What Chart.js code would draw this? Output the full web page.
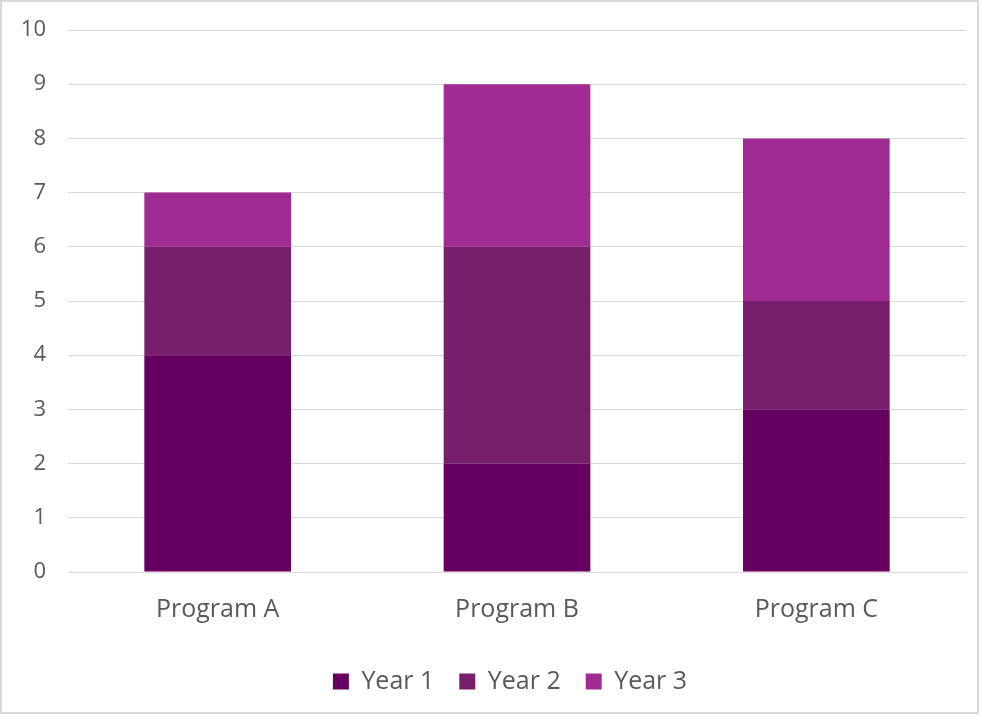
<!DOCTYPE html>
<html>
<head>
<meta charset="utf-8">
<script src="https://cdn.jsdelivr.net/npm/chart.js@4"></script>
<style>
  html, body { margin: 0; padding: 0; background: #ffffff; }
  #frame { position: absolute; left: 0; top: 0; width: 979px; height: 714px; box-sizing: border-box; border: 2px solid #d9d9d9; background: #fff; }
  #wrap { position: absolute; left: 0; top: 0; width: 975px; height: 710px; }
</style>
</head>
<body>
<div id="frame"><div id="wrap"><canvas id="c"></canvas></div></div>
<script>
const categories = ["Program A", "Program B", "Program C"];
const seriesNames = ["Year 1", "Year 2", "Year 3"];
const year1 = [4, 2, 3];
const year2 = [2, 4, 2];
const year3 = [1, 3, 3];
const seriesColors = ["#660060", "#771F6B", "#A02B93"];
const yTicks = [0, 1, 2, 3, 4, 5, 6, 7, 8, 9, 10];

const FONT = "'Open Sans', 'Liberation Sans', sans-serif";
const TXT = "#595959";

const legendNudge = {
  id: 'legendNudge',
  afterLayout(chart) {
    const lg = chart.legend;
    if (!lg) return;
    lg.left -= 7; lg.right -= 7;
    lg.top -= 4; lg.bottom -= 4;
  }
};

new Chart(document.getElementById('c'), {
  type: 'bar',
  data: {
    labels: categories,
    datasets: [year1, year2, year3].map((d, i) => ({
      label: seriesNames[i],
      data: d,
      backgroundColor: seriesColors[i],
      borderWidth: 0,
      barPercentage: 0.49,
      categoryPercentage: 1.0
    }))
  },
  plugins: [legendNudge],
  options: {
    responsive: true,
    maintainAspectRatio: false,
    animation: false,
    layout: { padding: { left: 0, right: 11, top: 28, bottom: 4 } },
    plugins: {
      legend: {
        position: 'bottom',
        fullSize: false,
        labels: {
          boxWidth: 16, boxHeight: 16, padding: 25,
          color: TXT, font: { family: FONT, size: 25 }
        }
      },
      tooltip: { enabled: false }
    },
    scales: {
      x: {
        stacked: true,
        grid: { display: false, drawTicks: false },
        border: { display: true, color: '#d9d9d9', width: 1 },
        ticks: { color: TXT, font: { family: FONT, size: 25 }, padding: 23 }
      },
      y: {
        stacked: true,
        min: 0, max: 10,
        afterBuildTicks: (axis) => { axis.ticks = yTicks.map(v => ({ value: v })); },
        afterFit: (axis) => { axis.width = 66; axis.paddingTop = 0; axis.paddingBottom = 0; },
        grid: { color: '#d9d9d9', lineWidth: 1, drawTicks: false },
        border: { display: false },
        ticks: { color: TXT, font: { family: FONT, size: 22 }, padding: 22 }
      }
    }
  }
});
</script>
</body>
</html>
